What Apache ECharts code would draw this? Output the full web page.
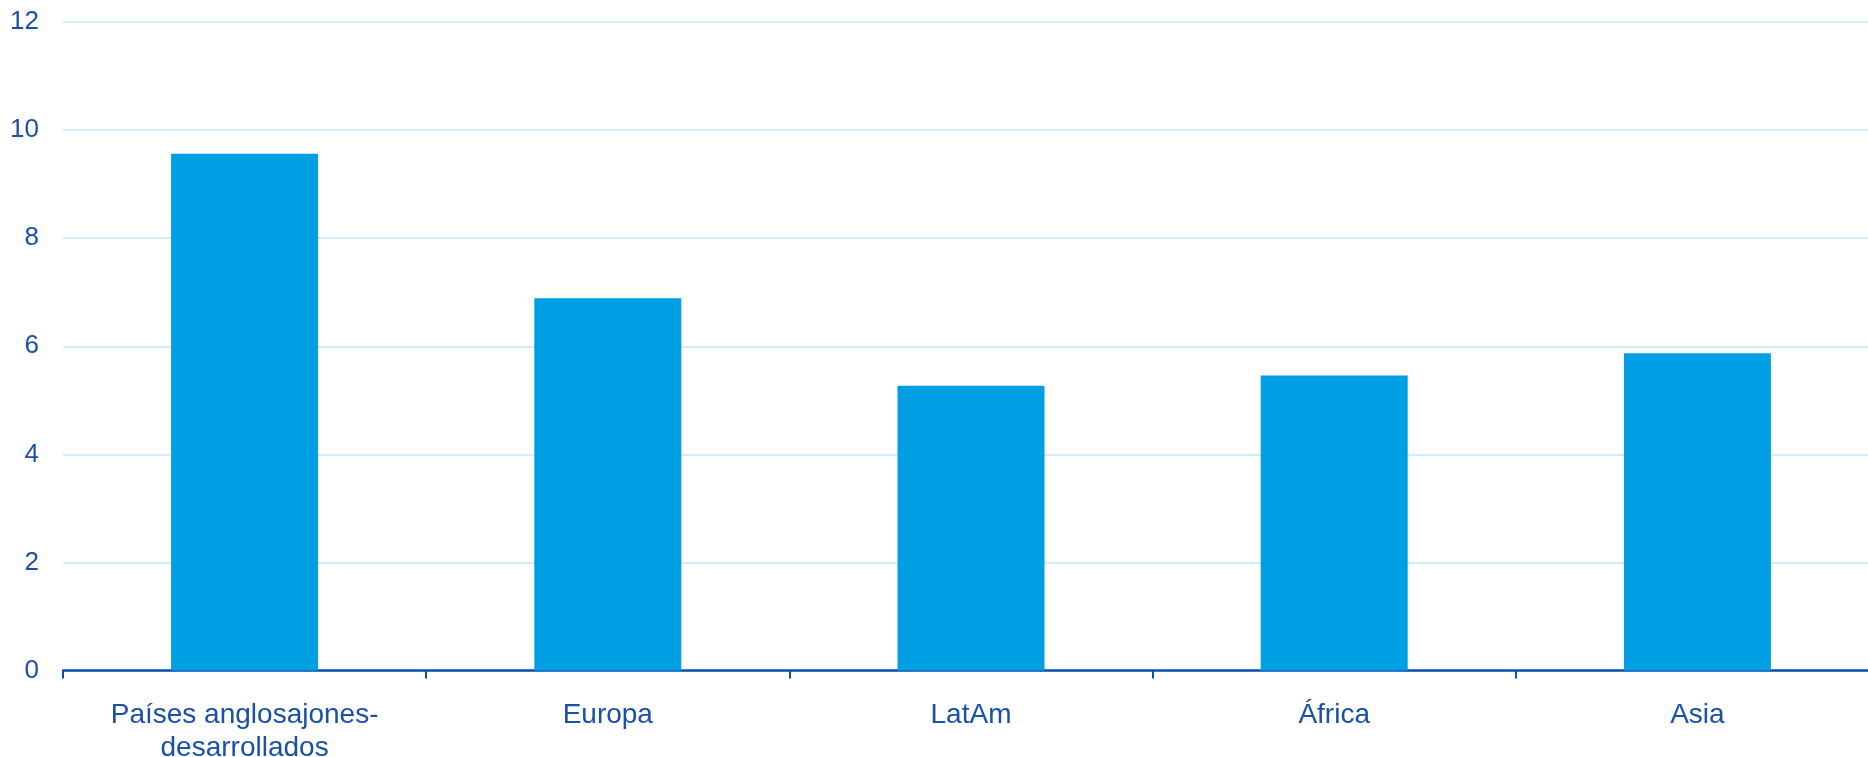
<!DOCTYPE html>
<html>
<head>
<meta charset="utf-8">
<script src="https://cdn.jsdelivr.net/npm/echarts@6/dist/echarts.min.js"></script>
<style>
html,body{margin:0;padding:0;background:#fff;}
#chart{width:1868px;height:757px;}
</style>
</head>
<body>
<div id="chart"></div>
<script>
const categories = ["Países anglosajones-\ndesarrollados", "Europa", "LatAm", "África", "Asia"];
const values = [9.56, 6.89, 5.27, 5.46, 5.87];
const yMin = 0, yMax = 12, yInterval = 2;

const textColor = "#1a50a8";
const chart = echarts.init(document.getElementById('chart'), null, {renderer: 'canvas'});
chart.setOption({
  animation: false,
  backgroundColor: '#ffffff',
  grid: {left: 63, width: 1816, top: 22, bottom: 86.5, containLabel: false, outerBoundsMode: 'none'},
  xAxis: {
    type: 'category',
    data: categories,
    boundaryGap: true,
    axisLine: {show: true, lineStyle: {color: '#0e4fae', width: 2.5}},
    axisTick: {show: true, alignWithLabel: false, length: 8, lineStyle: {color: '#0e4fae', width: 2}},
    axisLabel: {color: textColor, fontFamily: 'Liberation Sans, Arial, sans-serif', fontSize: 28, lineHeight: 33, margin: 28, interval: 0}
  },
  yAxis: {
    type: 'value',
    min: yMin, max: yMax, interval: yInterval,
    axisLine: {show: false},
    axisTick: {show: false},
    splitLine: {show: true, lineStyle: {color: '#c5e6f7', width: 1.5}},
    axisLabel: {color: textColor, fontFamily: 'Liberation Sans, Arial, sans-serif', fontSize: 26, margin: 24}
  },
  series: [{
    type: 'bar',
    data: values,
    barWidth: 147,
    itemStyle: {color: '#009fe3'}
  }]
});
</script>
</body>
</html>
